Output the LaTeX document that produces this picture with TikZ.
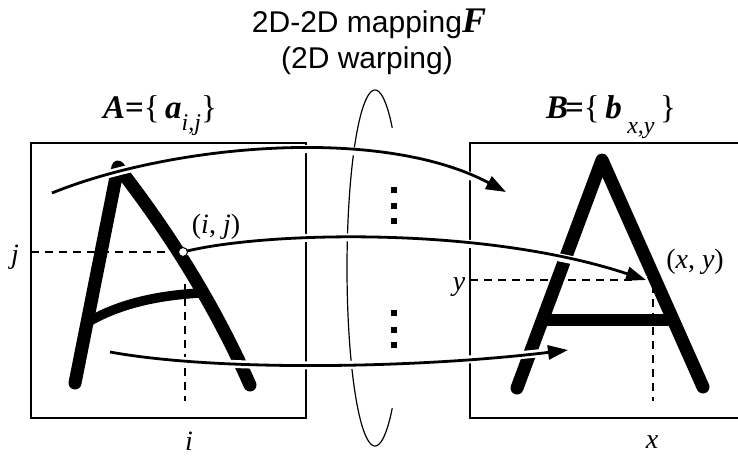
\documentclass[tikz,border=0pt]{standalone}
\usepackage{fontspec}
\setmainfont{Liberation Serif}
\setsansfont{Liberation Sans}
\usetikzlibrary{arrows.meta}
\begin{document}
\begin{tikzpicture}[x=1pt,y=-1pt,
  frame/.style={line width=1.4pt},
  guide/.style={line width=1.2pt, dash pattern=on 8pt off 6pt},
  glyph/.style={line width=13pt, line cap=round, line join=round},
  bar/.style={line cap=butt},
  halo/.style={preaction={draw=white, line width=8pt, -}},
  map/.style={halo, line width=2.8pt, -{Triangle[length=20pt,width=14pt]}},
  lab/.style={inner sep=0pt, font=\fontsize{28}{32}\selectfont},
  setlab/.style={inner sep=0pt, anchor=base, font=\fontsize{33}{36}\selectfont},
  ttl/.style={inner sep=0pt, anchor=base, font=\sffamily\fontsize{30}{34}\selectfont},
  dot/.style={fill=black, inner sep=0pt, minimum size=6pt},
  ring/.style={line width=1.2pt}]
\useasboundingbox (0,0) rectangle (738,455);

% frames
\draw[frame] (31,143) rectangle (306,418);
\draw[frame] (738,143) -- (470,143) -- (470,418) -- (738,418);

% guide lines
\draw[guide] (31,252) -- (178,252);
\draw[guide] (185,284) -- (185,401);
\draw[guide] (470,280) -- (640,280);
\draw[guide] (653,285) -- (653,401);

% warped A
\draw[glyph] (75,383) -- (118,167) .. controls (172.7,237) and (216.7,309.7) .. (250,385);
\draw[glyph, bar, line width=9.5pt] (88,322) .. controls (117.7,305) and (153.3,295.7) .. (200,293);

% straight A
\draw[glyph] (517,388) -- (602,160) -- (703,387);
\draw[glyph, bar, line width=12pt] (541,320) -- (674,320);

% ring
\draw[ring, shift={(375,268)}] plot[domain=-52:-308, samples=90, smooth] ({28*cos(\x)},{178*sin(\x)});

% mapping arrows
\coordinate (s1) at (52,193);
\coordinate (t1) at (506,192);
\coordinate (s2) at (183,252);
\coordinate (t2) at (646,280);
\coordinate (s3) at (110,352);
\coordinate (t3) at (568,350);
\draw[map] (s1) .. controls (170,145) and (380,125) .. (t1);
\draw[map] (s2) .. controls (260,232) and (480,225) .. (t2);
\draw[map] (s3) .. controls (220,372) and (420,368) .. (t3);
\node[circle, draw, fill=white, line width=1pt, minimum size=9pt, inner sep=0pt] (pij) at (s2) {};

% dots
\foreach \yy [count=\k] in {190,206,221,313,330,345}
  \node[dot] (d\k) at (394,\yy) {};

% titles
\node[ttl] (title1) at (369,32) {2D-2D mapping{\rmfamily\bfseries\itshape\fontsize{36}{38}\selectfont F}};
\node[ttl] (title2) at (367,68) {(2D warping)};

% set labels
\node[setlab] (setA) at (160,118) {\textbf{\textit{A}}\textbf{=}\{\,\textbf{\textit{a}}\raisebox{-0.8ex}{\fontsize{24}{26}\selectfont\textit{i,j}}\}};
\node[setlab] (setB) at (611,118) {\textbf{\textit{B}}\kern-3pt\textbf{=}\{\,\textbf{\textit{b}}\,\raisebox{-15pt}{\fontsize{24}{26}\selectfont\textit{x,y}}\,\}};

% point labels
\node[lab] (lij) at (216,227) {(\textit{i}, \textit{j})};
\node[lab] (lxy) at (695,262) {(\textit{x}, \textit{y})};
\node[lab, anchor=base] (lj) at (15,263) {\textit{j}};
\node[lab, anchor=base] (li) at (189,450) {\textit{i}};
\node[lab, anchor=base] (ly) at (459,290) {\textit{y}};
\node[lab, anchor=base] (lx) at (652,448) {\textit{x}};
\end{tikzpicture}
\end{document}
